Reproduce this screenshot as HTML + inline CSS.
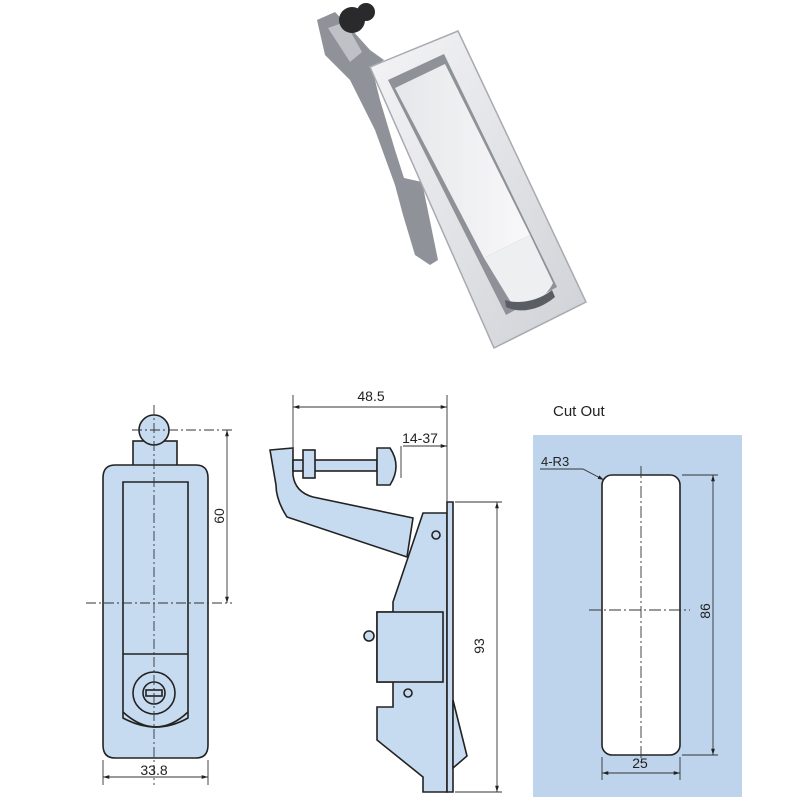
<!DOCTYPE html>
<html><head><meta charset="utf-8"><style>html,body{margin:0;padding:0;background:#fff}svg{display:block}</style></head>
<body>
<svg width="800" height="800" viewBox="0 0 800 800" xmlns="http://www.w3.org/2000/svg" font-family="Liberation Sans, sans-serif">
<defs>
<linearGradient id="pl" x1="0" y1="0" x2="1" y2="1"><stop offset="0" stop-color="#f4f4f6"/><stop offset="0.5" stop-color="#e2e3e7"/><stop offset="1" stop-color="#cfd1d6"/></linearGradient>
<linearGradient id="bt" x1="0" y1="0" x2="1" y2="0"><stop offset="0" stop-color="#e6e7ea"/><stop offset="1" stop-color="#f8f8f9"/></linearGradient>
<marker id="a" viewBox="0 0 10 10" refX="10" refY="5" markerWidth="7" markerHeight="7" orient="auto-start-reverse"><path d="M0,2 L10,5 L0,8 z" fill="#222"/></marker>
</defs>
<!-- photo -->
<path d="M317,20 L335,12 L352,30 L370,50 L384,60 L372,68 L380,100 L395,150 L404,178 L422,182 L438,260 L430,265 L415,255 L403,215 L395,185 L375,130 L350,80 L325,55 Z" fill="#8f9299"/>
<path d="M328,28 L345,22 L362,52 L350,62 Z" fill="#bfc1c6"/>
<circle cx="352" cy="20" r="13" fill="#2a2a2c"/>
<circle cx="366" cy="12" r="9" fill="#2a2a2c"/>
<path d="M370,67 L458,31 L586,302 L494,348 Z" fill="url(#pl)" stroke="#a8aab0" stroke-width="1.5"/>
<path d="M388,80 L444,54 L557,287 L506,315 Z" fill="#8e9198"/>
<path d="M395,88 L445,64 L530,235 L484,258 Z" fill="url(#bt)"/>
<path d="M484,258 L530,235 L553,283 C545,300 525,308 512,304 Z" fill="#eeeff1"/>
<path d="M505,300 C520,305 540,300 552,290 L555,297 C540,310 520,314 506,307 Z" fill="#5a5d64"/>
<!-- front view -->
<g stroke="#222" stroke-width="1.6" fill="#c6daf0">
<rect x="133" y="441" width="44" height="26"/>
<circle cx="154" cy="430" r="15"/>
<path d="M115,465 L196,465 Q208,465 208,478 L208,745 Q208,758 196,758 L115,758 Q103,758 103,745 L103,478 Q103,465 115,465 Z"/>
<path d="M123,482 L188,482 L188,718 Q156,736 123,718 Z" fill="#c6daf0"/>
<line x1="123" y1="654" x2="188" y2="654"/>
<circle cx="154" cy="693" r="21"/>
<circle cx="154" cy="693" r="11"/>
<rect x="146" y="690" width="16" height="6"/>
<path d="M123,712 Q156,742 188,712" fill="none"/>
</g>
<g stroke="#333" stroke-width="0.9" fill="none">
<line x1="154" y1="405" x2="154" y2="785" stroke-dasharray="10,3,2,3"/>
<line x1="86" y1="603" x2="232" y2="603" stroke-dasharray="10,3,2,3"/>
<line x1="132" y1="430" x2="232" y2="430" stroke-dasharray="10,3,2,3"/>
<line x1="227" y1="430" x2="227" y2="603" marker-start="url(#a)" marker-end="url(#a)"/>
<line x1="103" y1="760" x2="103" y2="785"/><line x1="208" y1="760" x2="208" y2="785"/>
<line x1="103" y1="777" x2="208" y2="777" marker-start="url(#a)" marker-end="url(#a)"/>
</g>
<text x="154" y="775" font-size="14" text-anchor="middle" fill="#222">33.8</text>
<text transform="translate(224,516) rotate(-90)" font-size="14" text-anchor="middle" fill="#222">60</text>
<!-- side view -->
<g stroke="#222" stroke-width="1.6" fill="#c6daf0">
<path d="M270,450 L293,448 L293,475 Q295,492 313,497 L413,518 L407,557 L287,517 Q276,500 276,485 Z"/>
<rect x="293" y="460" width="84" height="11"/>
<rect x="303" y="450" width="12" height="28"/>
<path d="M377,448 L390,448 Q402,466 390,485 L377,485 Z"/>
<path d="M423,513 L447,513 L447,792 L423,792 L423,777 L377,740 L377,707 L393,707 L393,682 L377,682 L377,612 L393,612 L393,602 Z"/>
<rect x="377" y="612" width="66" height="70"/>
<path d="M447,502 L453,502 L453,792 L447,792 Z"/>
<path d="M453,700 L467,756 L453,768 Z"/>
<circle cx="369" cy="636" r="5"/>
<circle cx="436" cy="535" r="4"/>
<circle cx="408" cy="693" r="4"/>
</g>
<g stroke="#333" stroke-width="0.9" fill="none">
<line x1="293" y1="395" x2="293" y2="450"/>
<line x1="447" y1="395" x2="447" y2="502"/>
<line x1="293" y1="407" x2="447" y2="407" marker-start="url(#a)" marker-end="url(#a)"/>
<line x1="403" y1="446" x2="447" y2="446" marker-end="url(#a)"/>
<line x1="401" y1="446" x2="401" y2="478"/>
<line x1="455" y1="502" x2="502" y2="502"/><line x1="455" y1="792" x2="502" y2="792"/>
<line x1="497" y1="502" x2="497" y2="792" marker-start="url(#a)" marker-end="url(#a)"/>
</g>
<text x="371" y="401" font-size="14" text-anchor="middle" fill="#222">48.5</text>
<text x="420" y="443" font-size="14" text-anchor="middle" fill="#222">14-37</text>
<text transform="translate(484,646) rotate(-90)" font-size="14" text-anchor="middle" fill="#222">93</text>
<!-- cut out -->
<text x="553" y="416" font-size="15" fill="#222">Cut Out</text>
<rect x="533" y="435" width="209" height="362" fill="#bdd4ec"/>
<rect x="602" y="475" width="78" height="280" rx="10" fill="#fff" stroke="#222" stroke-width="1.6"/>
<g stroke="#333" stroke-width="0.9" fill="none">
<line x1="641" y1="466" x2="641" y2="765" stroke-dasharray="12,3,2,3"/>
<line x1="589" y1="610" x2="690" y2="610" stroke-dasharray="12,3,2,3"/>
<line x1="682" y1="475" x2="718" y2="475"/><line x1="682" y1="755" x2="718" y2="755"/>
<line x1="713" y1="475" x2="713" y2="755" marker-start="url(#a)" marker-end="url(#a)"/>
<line x1="602" y1="757" x2="602" y2="780"/><line x1="680" y1="757" x2="680" y2="780"/>
<line x1="602" y1="773" x2="680" y2="773" marker-start="url(#a)" marker-end="url(#a)"/>
<polyline points="540,469 583,469 604,480" marker-end="url(#a)"/>
</g>
<text x="541" y="466" font-size="13" fill="#222">4-R3</text>
<text x="640" y="768" font-size="14" text-anchor="middle" fill="#222">25</text>
<text transform="translate(710,611) rotate(-90)" font-size="14" text-anchor="middle" fill="#222">86</text>
</svg>
</body></html>
